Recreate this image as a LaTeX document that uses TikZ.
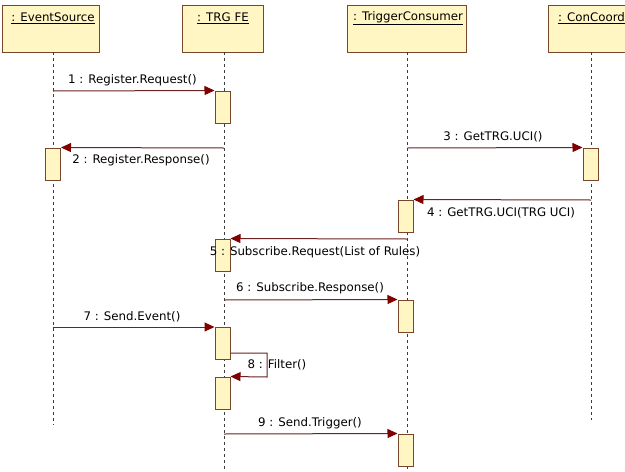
\documentclass[tikz,border=0pt]{standalone}
\usepackage{fontspec}
\setmainfont{DejaVu Sans}
\usetikzlibrary{arrows.meta}
\definecolor{boxfill}{RGB}{255,246,196}
\definecolor{boxline}{RGB}{120,70,40}
\definecolor{msgcol}{RGB}{105,35,35}
\definecolor{tipcol}{RGB}{128,0,0}
\definecolor{lifecol}{RGB}{60,60,60}
\begin{document}
\begin{tikzpicture}[x=1pt,y=-1pt,
  head/.style={draw=boxline, fill=boxfill, line width=1pt, inner sep=0pt, minimum height=47pt},
  headtxt/.style={inner sep=0pt, font=\fontsize{11.8}{14}\selectfont},
  act/.style={draw=boxline, fill=boxfill, line width=1pt, inner sep=0pt, minimum width=15pt, minimum height=32pt},
  life/.style={draw=lifecol, line width=1pt, dash pattern=on 3pt off 3pt},
  msg/.style={draw=msgcol, line width=1pt, -{Triangle[length=10pt,width=9pt,fill=tipcol,color=tipcol]}},
  lbl/.style={inner sep=0pt, font=\fontsize{11.8}{14}\selectfont}]
\useasboundingbox (0,0) rectangle (625,472);
\clip (0,0) rectangle (625,472);
\fill[white] (0,0) rectangle (625,472);
% lifelines
\coordinate (esEnd) at (53,425);
\coordinate (feEnd) at (224,472);
\coordinate (tcEnd) at (407,472);
\coordinate (ccEnd) at (591,420);
\node[head, minimum width=97pt] (es) at (50.5,28.5) {};
\node[head, minimum width=81pt] (fe) at (222.5,28.5) {};
\node[head, minimum width=119pt] (tc) at (406.5,28.5) {};
\node[head, minimum width=86pt] (cc) at (591,28.5) {};
\draw[life] (53,52) -- (esEnd);
\draw[life] (224,52) -- (feEnd);
\draw[life] (407,52) -- (tcEnd);
\draw[life] (591,52) -- (ccEnd);
\node[headtxt] at (53,18) {\underline{: EventSource}};
\node[headtxt] at (223,18) {\underline{: TRG FE}};
\node[headtxt] at (408,18) {\underline{: TriggerConsumer}};
\node[headtxt, anchor=west] at (558,18) {\underline{: ConCoord}};
% activations
\node[act] (a1) at (222.5,107) {};
\node[act] (a2) at (53,164) {};
\node[act] (a3) at (590.5,164) {};
\node[act] (a4) at (405.5,216) {};
\node[act] (a5) at (222.5,255) {};
\node[act] (a6) at (405.5,316) {};
\node[act] (a7) at (222.5,343.5) {};
\node[act] (a8) at (222.5,393) {};
\node[act] (a9) at (405.5,450) {};
% message start points on lifelines
\coordinate (m1) at (53,91);
\coordinate (m2) at (224,148);
\coordinate (m3) at (407,148);
\coordinate (m4) at (591,200);
\coordinate (m5) at (407,239);
\coordinate (m6) at (224,300);
\coordinate (m7) at (53,327);
\coordinate (m9) at (224,434);
\draw[msg] (m1) -- (a1.north west);
\draw[msg] (m2) -- (a2.north east);
\draw[msg] (m3) -- (a3.north west);
\draw[msg] (m4) -- (a4.north east);
\draw[msg] (m5) -- (a5.north east);
\draw[msg] (m6) -- (a6.north west);
\draw[msg] (m7) -- (a7.north west);
\draw[msg] (a7.east |- 0,353) -- (267,353) -- (267,377) -- (a8.north east);
\draw[msg] (m9) -- (a9.north west);
% labels
\node[lbl] at (132.5,80) {1 : Register.Request()};
\node[lbl] at (141,160) {2 : Register.Response()};
\node[lbl] at (493,137) {3 : GetTRG.UCI()};
\node[lbl] at (501,213) {4 : GetTRG.UCI(TRG UCI)};
\node[lbl] at (315,252) {5 : Subscribe.Request(List of Rules)};
\node[lbl] at (310,288) {6 : Subscribe.Response()};
\node[lbl] at (132,317) {7 : Send.Event()};
\node[lbl] at (277,365) {8 : Filter()};
\node[lbl] at (310,423) {9 : Send.Trigger()};
\end{tikzpicture}
\end{document}
